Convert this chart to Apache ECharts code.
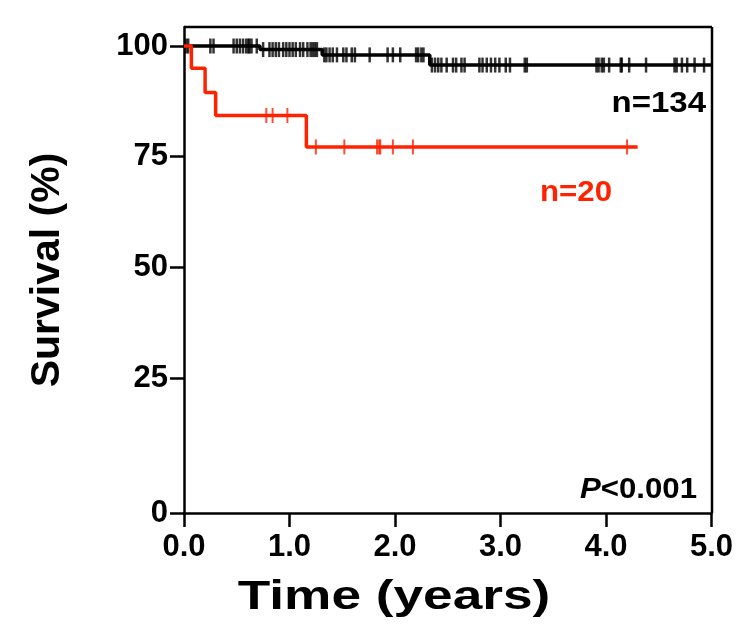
<!DOCTYPE html>
<html>
<head>
<meta charset="utf-8">
<script src="https://cdn.jsdelivr.net/npm/echarts@6/dist/echarts.min.js"></script>
<style>
html,body{margin:0;padding:0;background:#fff;}
#chart{width:736px;height:629px;}
</style>
</head>
<body>
<div id="chart"></div>
<script>
// ---- data ----
const xTickValues = [0, 1, 2, 3, 4, 5];
const xTickLabels = ['0.0', '1.0', '2.0', '3.0', '4.0', '5.0'];
const yTickValues = [-5.5, 25, 50, 75, 100];   // bottom of axis is labelled 0 in the reference
const yTickLabels = ['0', '25', '50', '75', '100'];

// Kaplan-Meier steps: [time (years), survival %]
const blackSteps = [[0, 100], [0.72, 99.2], [1.31, 98.0], [2.33, 95.7], [5.0, 95.7]];
const redSteps = [[0, 100], [0.07, 95.0], [0.20, 89.5], [0.30, 84.3], [1.16, 77.2], [4.30, 77.2]];

// censoring times
const blackCensor = [0.02, 0.04, 0.25, 0.28, 0.47, 0.50, 0.53, 0.56, 0.59, 0.61, 0.62, 0.64, 0.69,
  0.75, 0.81, 0.84, 0.87, 0.90, 0.94, 0.97, 1.00, 1.03, 1.06, 1.10, 1.13, 1.17, 1.20, 1.22, 1.24, 1.26,
  1.33, 1.35, 1.38, 1.41, 1.45, 1.51, 1.54, 1.59, 1.62, 1.76, 1.93, 1.98, 2.05, 2.20, 2.22, 2.25, 2.27,
  2.35, 2.38, 2.41, 2.44, 2.49, 2.55, 2.58, 2.63, 2.66, 2.80, 2.83, 2.87, 2.91, 2.95, 2.99, 3.05, 3.09,
  3.23, 3.25, 3.91, 3.93, 3.96, 3.98, 4.03, 4.14, 4.15, 4.22, 4.38, 4.65, 4.67, 4.72, 4.77, 4.84, 4.93];
const redCensor = [0.78, 0.84, 0.98, 1.25, 1.52, 1.83, 1.85, 1.86, 1.98, 2.17, 4.20];

const blackColor = '#000000';
const redColor = '#ff2200';

function levelAt(steps, t) {
  let v = steps[0][1];
  for (const s of steps) { if (s[0] <= t) v = s[1]; }
  return v;
}

const chart = echarts.init(document.getElementById('chart'), null, {renderer: 'canvas'});
const font = "'Liberation Sans', Arial, sans-serif";

const option = {
  animation: false,
  grid: {left: 184, right: 24, top: 27, bottom: 116, containLabel: false},
  xAxis: {
    type: 'value', min: 0, max: 5, interval: 1,
    axisLine: {show: true, onZero: false, lineStyle: {color: '#000', width: 2.5}},
    axisTick: {show: true, length: 14, lineStyle: {color: '#000', width: 2.5}},
    axisLabel: {fontFamily: font, fontWeight: 'bold', fontSize: 31, color: '#000', margin: 19,
      formatter: v => xTickLabels[xTickValues.indexOf(v)]},
    splitLine: {show: false}
  },
  yAxis: {
    type: 'value', min: -5.5, max: 104.3,
    name: 'Survival (%)', nameLocation: 'middle', nameGap: 116,
    nameTextStyle: {fontFamily: font, fontWeight: 'bold', fontSize: 41, color: '#000'},
    axisLine: {show: true, onZero: false, lineStyle: {color: '#000', width: 2.5}},
    axisTick: {show: true, length: 14, customValues: yTickValues, lineStyle: {color: '#000', width: 2.5}},
    axisLabel: {fontFamily: font, fontWeight: 'bold', fontSize: 31, color: '#000', margin: 16,
      customValues: yTickValues,
      formatter: v => yTickLabels[yTickValues.indexOf(v)]},
    splitLine: {show: false}
  },
  graphic: [
    {type: 'line', shape: {x1: 184, y1: 27, x2: 712, y2: 27}, style: {stroke: '#000', lineWidth: 2.5}, z: 10},
    {type: 'line', shape: {x1: 712, y1: 27, x2: 712, y2: 513}, style: {stroke: '#000', lineWidth: 2.5}, z: 10},
    {type: 'text', x: 394, y: 598, scaleX: 1.33, style: {text: 'Time (years)', font: "bold 40px " + font, fill: '#000',
      textAlign: 'center', textVerticalAlign: 'middle'}},
    {type: 'text', x: 706, y: 104, scaleX: 1.1, style: {text: 'n=134', font: "bold 30px " + font, fill: '#000',
      textAlign: 'right', textVerticalAlign: 'middle'}},
    {type: 'text', x: 576, y: 193, scaleX: 1.04, style: {text: 'n=20', font: "bold 30px " + font, fill: redColor,
      textAlign: 'center', textVerticalAlign: 'middle'}},
    {type: 'text', x: 697, y: 490, scaleX: 1.04, style: {
      text: '{i|P}<0.001', font: "bold 30px " + font, fill: '#000',
      textAlign: 'right', textVerticalAlign: 'middle',
      rich: {i: {fontStyle: 'italic', fontWeight: 'bold', fontSize: 30, fontFamily: font, fill: '#000'}}
    }}
  ],
  series: [
    {type: 'line', step: 'end', data: blackSteps, symbol: 'none',
      lineStyle: {color: blackColor, width: 3.5}, z: 2},
    {type: 'scatter', data: blackCensor.map(t => [t, levelAt(blackSteps, t)]),
      symbol: 'rect', symbolSize: [2.5, 15], itemStyle: {color: blackColor}, z: 2},
    {type: 'line', step: 'end', data: redSteps, symbol: 'none',
      lineStyle: {color: redColor, width: 3.5}, z: 3},
    {type: 'scatter', data: redCensor.map(t => [t, levelAt(redSteps, t)]),
      symbol: 'rect', symbolSize: [2, 15], itemStyle: {color: redColor}, z: 3}
  ]
};
chart.setOption(option);
</script>
</body>
</html>
